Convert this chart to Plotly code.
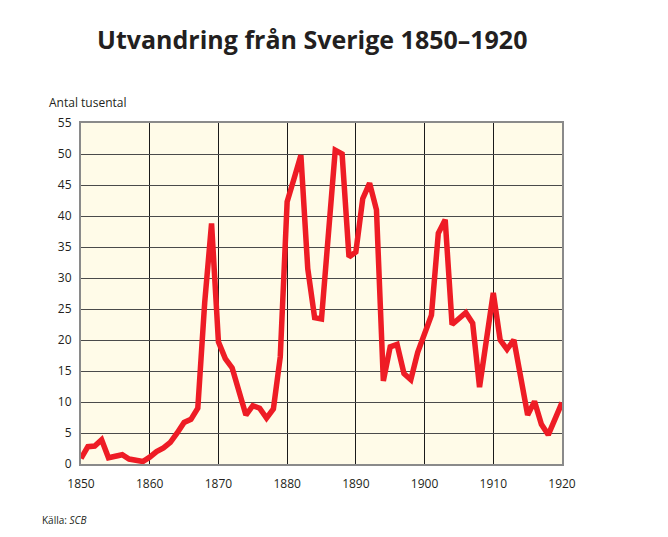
import plotly.graph_objects as go

years = list(range(1850, 1921))
emigrants = [
    0.9, 2.8, 2.9, 3.9, 1.0, 1.3, 1.5, 0.8, 0.5, 0.4,   # 1850-1859
    1.1, 2.0, 2.6, 3.5, 5.0, 6.7, 7.2, 9.0, 26.0, 38.8,  # 1860-1869
    19.7, 17.0, 15.5, 11.8, 7.9, 9.4, 9.0, 7.4, 8.9, 17.3,  # 1870-1879
    42.3, 46.0, 49.8, 31.5, 23.6, 23.4, 37.0, 50.6, 50.0, 33.4,  # 1880-1889
    34.2, 42.8, 45.3, 41.0, 13.4, 18.9, 19.3, 14.6, 13.6, 18.0,  # 1890-1899
    21.0, 24.0, 37.2, 39.4, 22.5, 23.5, 24.4, 22.7, 12.4, 20.0,  # 1900-1909
    27.6, 20.0, 18.5, 20.0, 14.0, 7.9, 10.1, 6.4, 4.7, 7.3,  # 1910-1919
    9.9,  # 1920
]
x_ticks = [1850, 1860, 1870, 1880, 1890, 1900, 1910, 1920]
y_ticks = [0, 5, 10, 15, 20, 25, 30, 35, 40, 45, 50, 55]

title_text = "Utvandring från Sverige 1850–1920"
y_title = "Antal tusental"
source_text = "Källa: <i>SCB</i>"

font_family = "Open Sans, Noto Sans, sans-serif"
text_color = "#231F20"

fig = go.Figure()
fig.add_trace(go.Scatter(
    x=years, y=emigrants, mode="lines",
    line=dict(color="#EE1C25", width=5.5),
    hoverinfo="x+y", showlegend=False,
))

fig.update_layout(
    width=660, height=529,
    margin=dict(l=73, r=106, t=115, b=73),
    paper_bgcolor="white",
    plot_bgcolor="#FFFBE8",
    font=dict(family=font_family, color=text_color, size=12),
    title=dict(text="<b>" + title_text + "</b>", x=0.461, xanchor="center",
               y=0.9395, yanchor="middle",
               font=dict(size=25, family=font_family, color=text_color)),
    xaxis=dict(range=[1850, 1920], tickvals=x_ticks, ticktext=[str(v) for v in x_ticks],
               showgrid=True, gridcolor="#1a1a1a", gridwidth=1,
               showline=True, linecolor="#8a8a8a", linewidth=2, mirror=True,
               ticks="", zeroline=False, tickfont=dict(size=12),
               ticklabelstandoff=8),
    yaxis=dict(range=[0, 55], tickvals=y_ticks, ticktext=[str(v) for v in y_ticks],
               showgrid=True, gridcolor="#4a4a4a", gridwidth=1,
               showline=True, linecolor="#8a8a8a", linewidth=2, mirror=True,
               ticks="", zeroline=False, tickfont=dict(size=12),
               ticklabelstandoff=5),
    annotations=[
        dict(text=y_title, xref="paper", yref="paper", x=-0.0707, y=1.0587,
             xanchor="left", yanchor="middle", showarrow=False,
             font=dict(size=12, color=text_color)),
        dict(text=source_text, xref="paper", yref="paper", x=-0.0852, y=-0.164,
             xanchor="left", yanchor="middle", showarrow=False,
             font=dict(size=10, color=text_color)),
    ],
)

fig.write_html("out.html")
